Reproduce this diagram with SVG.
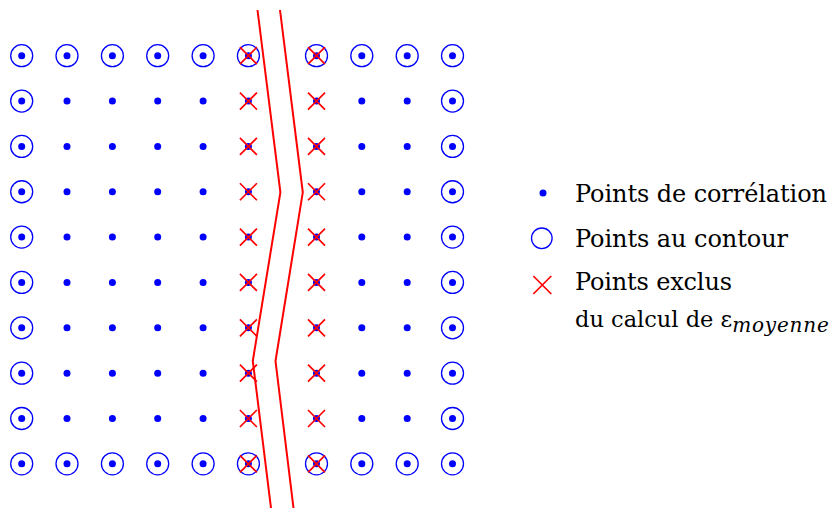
<svg xmlns="http://www.w3.org/2000/svg" xmlns:xlink="http://www.w3.org/1999/xlink" width="835" height="508" viewBox="0 0 835 508">
<style>
.dot{fill:#0000ff}
.ring{fill:none;stroke:#0000ff;stroke-width:1.3}
.x{fill:none;stroke:#ff0000;stroke-width:1.7}
.crack{fill:none;stroke:#ff0000;stroke-width:2}
.t{font-family:"DejaVu Serif","Liberation Serif",serif;font-size:24px;fill:#000}
.t2{font-family:"DejaVu Serif","Liberation Serif",serif;font-size:22.5px;fill:#000}
.sub{font-family:"DejaVu Serif","Liberation Serif",serif;font-size:20px;font-style:italic;letter-spacing:0.8px;fill:#000}
</style>
<defs>
<circle id="d" class="dot" r="3.5"/>
<circle id="r" class="ring" r="11"/>
<path id="c" class="x" d="M-8.5,-8.5L8.5,8.5M-8.5,8.5L8.5,-8.5"/>
</defs>
<rect width="835" height="508" fill="#fff"/>
<g id="row0">
<use href="#d" x="21.7" y="55.7"/><use href="#r" x="21.7" y="55.7"/>
<use href="#d" x="67" y="55.7"/><use href="#r" x="67" y="55.7"/>
<use href="#d" x="112.4" y="55.7"/><use href="#r" x="112.4" y="55.7"/>
<use href="#d" x="157.7" y="55.7"/><use href="#r" x="157.7" y="55.7"/>
<use href="#d" x="203.1" y="55.7"/><use href="#r" x="203.1" y="55.7"/>
<use href="#d" x="248.4" y="55.7"/><use href="#r" x="248.4" y="55.7"/><use href="#c" x="248.4" y="55.7"/>
<use href="#d" x="316.5" y="55.7"/><use href="#r" x="316.5" y="55.7"/><use href="#c" x="316.5" y="55.7"/>
<use href="#d" x="361.8" y="55.7"/><use href="#r" x="361.8" y="55.7"/>
<use href="#d" x="407.2" y="55.7"/><use href="#r" x="407.2" y="55.7"/>
<use href="#d" x="452.5" y="55.7"/><use href="#r" x="452.5" y="55.7"/>
</g>
<g id="row1">
<use href="#d" x="21.7" y="101.05"/><use href="#r" x="21.7" y="101.05"/>
<use href="#d" x="67" y="101.05"/><use href="#d" x="112.4" y="101.05"/><use href="#d" x="157.7" y="101.05"/><use href="#d" x="203.1" y="101.05"/>
<use href="#d" x="248.4" y="101.05"/><use href="#c" x="248.4" y="101.05"/>
<use href="#d" x="316.5" y="101.05"/><use href="#c" x="316.5" y="101.05"/>
<use href="#d" x="361.8" y="101.05"/><use href="#d" x="407.2" y="101.05"/>
<use href="#d" x="452.5" y="101.05"/><use href="#r" x="452.5" y="101.05"/>
</g>
<g id="row2">
<use href="#d" x="21.7" y="146.4"/><use href="#r" x="21.7" y="146.4"/>
<use href="#d" x="67" y="146.4"/><use href="#d" x="112.4" y="146.4"/><use href="#d" x="157.7" y="146.4"/><use href="#d" x="203.1" y="146.4"/>
<use href="#d" x="248.4" y="146.4"/><use href="#c" x="248.4" y="146.4"/>
<use href="#d" x="316.5" y="146.4"/><use href="#c" x="316.5" y="146.4"/>
<use href="#d" x="361.8" y="146.4"/><use href="#d" x="407.2" y="146.4"/>
<use href="#d" x="452.5" y="146.4"/><use href="#r" x="452.5" y="146.4"/>
</g>
<g id="row3">
<use href="#d" x="21.7" y="191.75"/><use href="#r" x="21.7" y="191.75"/>
<use href="#d" x="67" y="191.75"/><use href="#d" x="112.4" y="191.75"/><use href="#d" x="157.7" y="191.75"/><use href="#d" x="203.1" y="191.75"/>
<use href="#d" x="248.4" y="191.75"/><use href="#c" x="248.4" y="191.75"/>
<use href="#d" x="316.5" y="191.75"/><use href="#c" x="316.5" y="191.75"/>
<use href="#d" x="361.8" y="191.75"/><use href="#d" x="407.2" y="191.75"/>
<use href="#d" x="452.5" y="191.75"/><use href="#r" x="452.5" y="191.75"/>
</g>
<g id="row4">
<use href="#d" x="21.7" y="237.1"/><use href="#r" x="21.7" y="237.1"/>
<use href="#d" x="67" y="237.1"/><use href="#d" x="112.4" y="237.1"/><use href="#d" x="157.7" y="237.1"/><use href="#d" x="203.1" y="237.1"/>
<use href="#d" x="248.4" y="237.1"/><use href="#c" x="248.4" y="237.1"/>
<use href="#d" x="316.5" y="237.1"/><use href="#c" x="316.5" y="237.1"/>
<use href="#d" x="361.8" y="237.1"/><use href="#d" x="407.2" y="237.1"/>
<use href="#d" x="452.5" y="237.1"/><use href="#r" x="452.5" y="237.1"/>
</g>
<g id="row5">
<use href="#d" x="21.7" y="282.45"/><use href="#r" x="21.7" y="282.45"/>
<use href="#d" x="67" y="282.45"/><use href="#d" x="112.4" y="282.45"/><use href="#d" x="157.7" y="282.45"/><use href="#d" x="203.1" y="282.45"/>
<use href="#d" x="248.4" y="282.45"/><use href="#c" x="248.4" y="282.45"/>
<use href="#d" x="316.5" y="282.45"/><use href="#c" x="316.5" y="282.45"/>
<use href="#d" x="361.8" y="282.45"/><use href="#d" x="407.2" y="282.45"/>
<use href="#d" x="452.5" y="282.45"/><use href="#r" x="452.5" y="282.45"/>
</g>
<g id="row6">
<use href="#d" x="21.7" y="327.8"/><use href="#r" x="21.7" y="327.8"/>
<use href="#d" x="67" y="327.8"/><use href="#d" x="112.4" y="327.8"/><use href="#d" x="157.7" y="327.8"/><use href="#d" x="203.1" y="327.8"/>
<use href="#d" x="248.4" y="327.8"/><use href="#c" x="248.4" y="327.8"/>
<use href="#d" x="316.5" y="327.8"/><use href="#c" x="316.5" y="327.8"/>
<use href="#d" x="361.8" y="327.8"/><use href="#d" x="407.2" y="327.8"/>
<use href="#d" x="452.5" y="327.8"/><use href="#r" x="452.5" y="327.8"/>
</g>
<g id="row7">
<use href="#d" x="21.7" y="373.15"/><use href="#r" x="21.7" y="373.15"/>
<use href="#d" x="67" y="373.15"/><use href="#d" x="112.4" y="373.15"/><use href="#d" x="157.7" y="373.15"/><use href="#d" x="203.1" y="373.15"/>
<use href="#d" x="248.4" y="373.15"/><use href="#c" x="248.4" y="373.15"/>
<use href="#d" x="316.5" y="373.15"/><use href="#c" x="316.5" y="373.15"/>
<use href="#d" x="361.8" y="373.15"/><use href="#d" x="407.2" y="373.15"/>
<use href="#d" x="452.5" y="373.15"/><use href="#r" x="452.5" y="373.15"/>
</g>
<g id="row8">
<use href="#d" x="21.7" y="418.5"/><use href="#r" x="21.7" y="418.5"/>
<use href="#d" x="67" y="418.5"/><use href="#d" x="112.4" y="418.5"/><use href="#d" x="157.7" y="418.5"/><use href="#d" x="203.1" y="418.5"/>
<use href="#d" x="248.4" y="418.5"/><use href="#c" x="248.4" y="418.5"/>
<use href="#d" x="316.5" y="418.5"/><use href="#c" x="316.5" y="418.5"/>
<use href="#d" x="361.8" y="418.5"/><use href="#d" x="407.2" y="418.5"/>
<use href="#d" x="452.5" y="418.5"/><use href="#r" x="452.5" y="418.5"/>
</g>
<g id="row9">
<use href="#d" x="21.7" y="463.85"/><use href="#r" x="21.7" y="463.85"/>
<use href="#d" x="67" y="463.85"/><use href="#r" x="67" y="463.85"/>
<use href="#d" x="112.4" y="463.85"/><use href="#r" x="112.4" y="463.85"/>
<use href="#d" x="157.7" y="463.85"/><use href="#r" x="157.7" y="463.85"/>
<use href="#d" x="203.1" y="463.85"/><use href="#r" x="203.1" y="463.85"/>
<use href="#d" x="248.4" y="463.85"/><use href="#r" x="248.4" y="463.85"/><use href="#c" x="248.4" y="463.85"/>
<use href="#d" x="316.5" y="463.85"/><use href="#r" x="316.5" y="463.85"/><use href="#c" x="316.5" y="463.85"/>
<use href="#d" x="361.8" y="463.85"/><use href="#r" x="361.8" y="463.85"/>
<use href="#d" x="407.2" y="463.85"/><use href="#r" x="407.2" y="463.85"/>
<use href="#d" x="452.5" y="463.85"/><use href="#r" x="452.5" y="463.85"/>
</g>
<g id="crack">
<polyline class="crack" points="257.5,10 280.4,192.3 252.8,361 271,508"/>
<polyline class="crack" points="280,10 302.8,192.3 275.5,361 293.5,508"/>
</g>
<g id="legend">
<circle class="dot" cx="543" cy="193" r="3.5"/>
<text class="t" x="575" y="202" textLength="252">Points de corrélation</text>
<circle class="ring" cx="541.8" cy="238.3" r="10.3"/>
<text class="t" x="575" y="247" textLength="213">Points au contour</text>
<path class="x" d="M533.3,276L551.3,294M533.3,294L551.3,276"/>
<text class="t" x="575" y="290" textLength="157">Points exclus</text>
<text class="t2" x="575" y="327">du calcul de ε<tspan class="sub" dy="5">moyenne</tspan></text>
</g>
</svg>
